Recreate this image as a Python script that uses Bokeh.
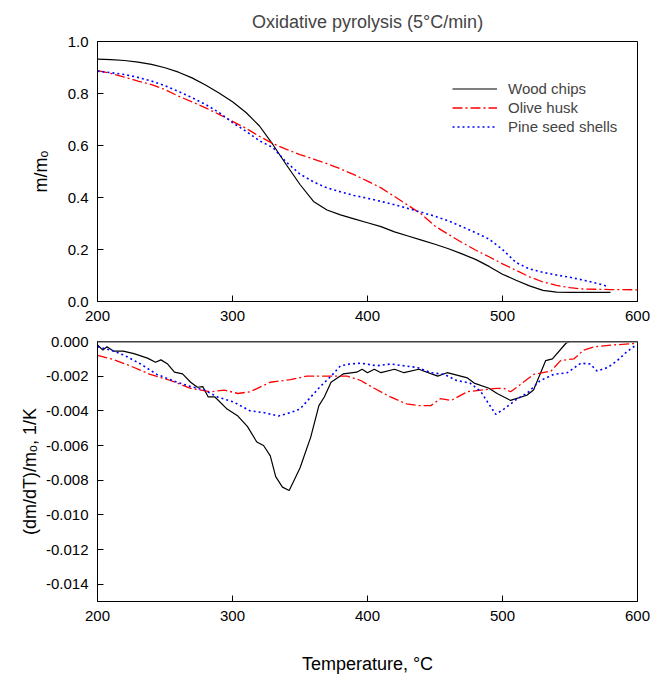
from bokeh.plotting import figure
from bokeh.layouts import column
from bokeh.models import FixedTicker, NumeralTickFormatter, Legend, LegendItem, Span, Range1d
from bokeh.embed import file_html
from bokeh.resources import INLINE

FONT = "Liberation Sans"

# ---- Top panel: m/mo vs temperature ----
wood_T = [200, 210, 220, 230, 240, 250, 260, 270, 280, 290, 300, 310, 320, 330, 340, 350, 360, 370, 380, 390,
          400, 410, 420, 430, 440, 450, 460, 470, 480, 490, 500, 510, 520, 530, 540, 550, 560, 570, 580]
wood_m = [0.932, 0.930, 0.927, 0.921, 0.912, 0.899, 0.882, 0.860, 0.833, 0.802, 0.768, 0.727, 0.675, 0.603, 0.525,
          0.450, 0.385, 0.352, 0.333, 0.318, 0.303, 0.288, 0.268, 0.252, 0.236, 0.220, 0.203, 0.183, 0.162, 0.135,
          0.105, 0.082, 0.060, 0.043, 0.036, 0.035, 0.035, 0.035, 0.035]

olive_T = [200, 210, 220, 230, 240, 250, 260, 270, 280, 290, 300, 310, 320, 330, 340, 350, 360, 370, 380, 390,
           400, 410, 420, 430, 440, 450, 460, 470, 480, 490, 500, 510, 520, 530, 540, 550, 560, 580, 600]
olive_m = [0.888, 0.877, 0.863, 0.848, 0.834, 0.815, 0.790, 0.768, 0.745, 0.720, 0.693, 0.666, 0.635, 0.607, 0.585,
           0.565, 0.548, 0.530, 0.510, 0.488, 0.463, 0.437, 0.404, 0.370, 0.336, 0.290, 0.258, 0.227, 0.198, 0.172,
           0.145, 0.120, 0.095, 0.075, 0.062, 0.053, 0.048, 0.046, 0.045]

pine_T = [200, 210, 220, 230, 240, 250, 260, 270, 280, 290, 300, 310, 320, 330, 340, 350, 360, 370, 380, 390,
          400, 410, 420, 430, 440, 450, 460, 470, 480, 490, 500, 510, 520, 530, 540, 550, 560, 570, 578]
pine_m = [0.886, 0.880, 0.873, 0.862, 0.848, 0.830, 0.808, 0.784, 0.758, 0.727, 0.688, 0.655, 0.618, 0.592, 0.535,
          0.490, 0.460, 0.437, 0.422, 0.408, 0.397, 0.385, 0.372, 0.358, 0.343, 0.328, 0.310, 0.288, 0.265, 0.240,
          0.200, 0.150, 0.125, 0.112, 0.102, 0.093, 0.082, 0.070, 0.058]

# ---- Bottom panel: (dm/dT)/mo vs temperature ----
wood_dT = [200, 204, 207, 212, 219, 227, 237, 243, 247, 252, 257, 263, 269, 274, 278, 282, 287, 296, 304, 311,
           318, 323, 328, 332, 337, 342, 350, 358, 364, 368, 373, 382, 392, 396, 400, 405, 410, 420, 427, 438,
           452, 459, 474, 479, 490, 496, 506, 518, 523, 532, 537, 547, 550, 580]
wood_d = [-0.0002, -0.0005, -0.0003, -0.00056, -0.00056, -0.0007, -0.00096, -0.0012, -0.00106, -0.0013,
          -0.00177, -0.00187, -0.00235, -0.00264, -0.0026, -0.0032, -0.0032, -0.0039, -0.0043, -0.0049,
          -0.0058, -0.0060, -0.0066, -0.0078, -0.0084, -0.0086, -0.0073, -0.0055, -0.0037, -0.0032,
          -0.00235, -0.00187, -0.00177, -0.0016, -0.0018, -0.0016, -0.0018, -0.0016, -0.0018, -0.0016,
          -0.0020, -0.0018, -0.0021, -0.0024, -0.0027, -0.0030, -0.0034, -0.0031, -0.0028, -0.0011,
          -0.0010, -0.0001, 0.0, 0.0]

olive_dT = [200, 210, 224, 239, 254, 269, 284, 294, 304, 313, 328, 343, 355, 368, 385, 395, 405, 417, 429, 438,
            447, 454, 462, 474, 484, 496, 501, 506, 513, 523, 536, 543, 553, 560, 568, 582, 600]
olive_d = [-0.0008, -0.0010, -0.0014, -0.0019, -0.00225, -0.0027, -0.0029, -0.0028, -0.0030, -0.0029,
           -0.00235, -0.0022, -0.0020, -0.0020, -0.0020, -0.00225, -0.0027, -0.0032, -0.0036, -0.0037,
           -0.0037, -0.0033, -0.0034, -0.0029, -0.0028, -0.0027, -0.0027, -0.0029, -0.0025, -0.0019,
           -0.0017, -0.0011, -0.0010, -0.0005, -0.0003, -0.0002, -0.0001]

pine_dT = [200, 210, 220, 232, 244, 259, 269, 279, 289, 301, 313, 323, 334, 343, 350, 358, 365, 373, 380, 387,
           395, 407, 417, 427, 437, 447, 457, 466, 476, 484, 489, 495, 501, 511, 518, 528, 538, 548, 558, 565,
           570, 578, 585, 592, 599]
pine_d = [-0.0003, -0.0005, -0.0008, -0.0013, -0.0019, -0.00235, -0.0026, -0.0028, -0.0032, -0.0035,
          -0.0040, -0.0041, -0.0043, -0.0041, -0.0039, -0.0032, -0.0026, -0.0020, -0.0014, -0.0013,
          -0.00125, -0.0014, -0.0013, -0.0014, -0.0015, -0.0018, -0.0019, -0.00225, -0.0024, -0.0029,
          -0.0035, -0.0042, -0.0039, -0.0033, -0.0030, -0.00225, -0.0019, -0.0018, -0.00125, -0.0013,
          -0.0017, -0.0015, -0.0011, -0.0006, -0.0002]

x_ticks = [200, 300, 400, 500, 600]
top_y_ticks = [0.0, 0.2, 0.4, 0.6, 0.8, 1.0]
bot_y_ticks = [0.0, -0.002, -0.004, -0.006, -0.008, -0.010, -0.012, -0.014]
series_names = ["Wood chips", "Olive husk", "Pine seed shells"]

LEFT = 97
RIGHT = 14
FRAME_W = 540
FRAME_H = 260


def style(p, yticks, yfmt, ylabel, label_standoff):
    p.outline_line_color = "black"
    p.outline_line_width = 1
    p.outline_line_alpha = 1
    p.xgrid.visible = False
    p.ygrid.visible = False
    p.xaxis.ticker = FixedTicker(ticks=x_ticks)
    p.yaxis.ticker = FixedTicker(ticks=yticks)
    p.yaxis.formatter = NumeralTickFormatter(format=yfmt)
    for ax in (p.xaxis[0], p.yaxis[0]):
        ax.major_tick_in = 6
        ax.major_tick_out = 0
        ax.minor_tick_line_color = None
        ax.axis_line_color = "black"
        ax.major_tick_line_color = "black"
        ax.major_label_text_font = FONT
        ax.major_label_text_font_size = "15px"
        ax.major_label_text_color = "black"
        ax.major_label_standoff = 9
        ax.axis_label_text_font = FONT
        ax.axis_label_text_font_size = "18px"
        ax.axis_label_text_font_style = "normal"
        ax.axis_label_text_color = "black"
    p.yaxis.axis_label = ylabel
    p.yaxis.axis_label_standoff = label_standoff


top = figure(frame_width=FRAME_W, frame_height=FRAME_H,
             x_range=Range1d(200, 600), y_range=Range1d(0, 1),
             output_backend="svg", toolbar_location=None,
             min_border_left=LEFT, min_border_right=RIGHT, min_border_top=41, min_border_bottom=28)
top.title.text = "Oxidative pyrolysis (5°C/min)"
top.title.align = "center"
top.title.text_font = FONT
top.title.text_font_size = "18px"
top.title.text_font_style = "normal"
top.title.standoff = 19
style(top, top_y_ticks, "0.0", "m/mₒ", 14)

r1 = top.line(wood_T, wood_m, line_color="black", line_width=1.2)
r2 = top.line(olive_T, olive_m, line_color="red", line_width=1.3, line_dash="10 3 2 3")
r3 = top.line(pine_T, pine_m, line_color="blue", line_width=1.6, line_dash="2 3")

legend = Legend(items=[LegendItem(label=series_names[0], renderers=[r1]),
                       LegendItem(label=series_names[1], renderers=[r2]),
                       LegendItem(label=series_names[2], renderers=[r3])],
                location=(355, 165), border_line_color=None, background_fill_alpha=0,
                padding=0, margin=0, spacing=0, label_height=19, glyph_height=19,
                glyph_width=45, label_standoff=11,
                label_text_font=FONT, label_text_font_size="15px")
top.add_layout(legend)

bot = figure(frame_width=FRAME_W, frame_height=FRAME_H,
             x_range=Range1d(200, 600), y_range=Range1d(-0.015, 0),
             output_backend="svg", toolbar_location=None,
             min_border_left=LEFT, min_border_right=RIGHT, min_border_top=12, min_border_bottom=68)
style(bot, bot_y_ticks, "0.000", "(dm/dT)/mₒ, 1/K", 3)
bot.xaxis.axis_label = "Temperature, °C"
bot.xaxis.axis_label_standoff = 30

bot.add_layout(Span(location=0, dimension="width", line_color="#808080", line_width=2.5))
bot.line(wood_dT, wood_d, line_color="black", line_width=1.2)
bot.line(olive_dT, olive_d, line_color="red", line_width=1.3, line_dash="10 3 2 3")
bot.line(pine_dT, pine_d, line_color="blue", line_width=1.6, line_dash="2 3")

layout = column(top, bot, spacing=0)
open("out.html", "w").write(file_html(layout, INLINE))
